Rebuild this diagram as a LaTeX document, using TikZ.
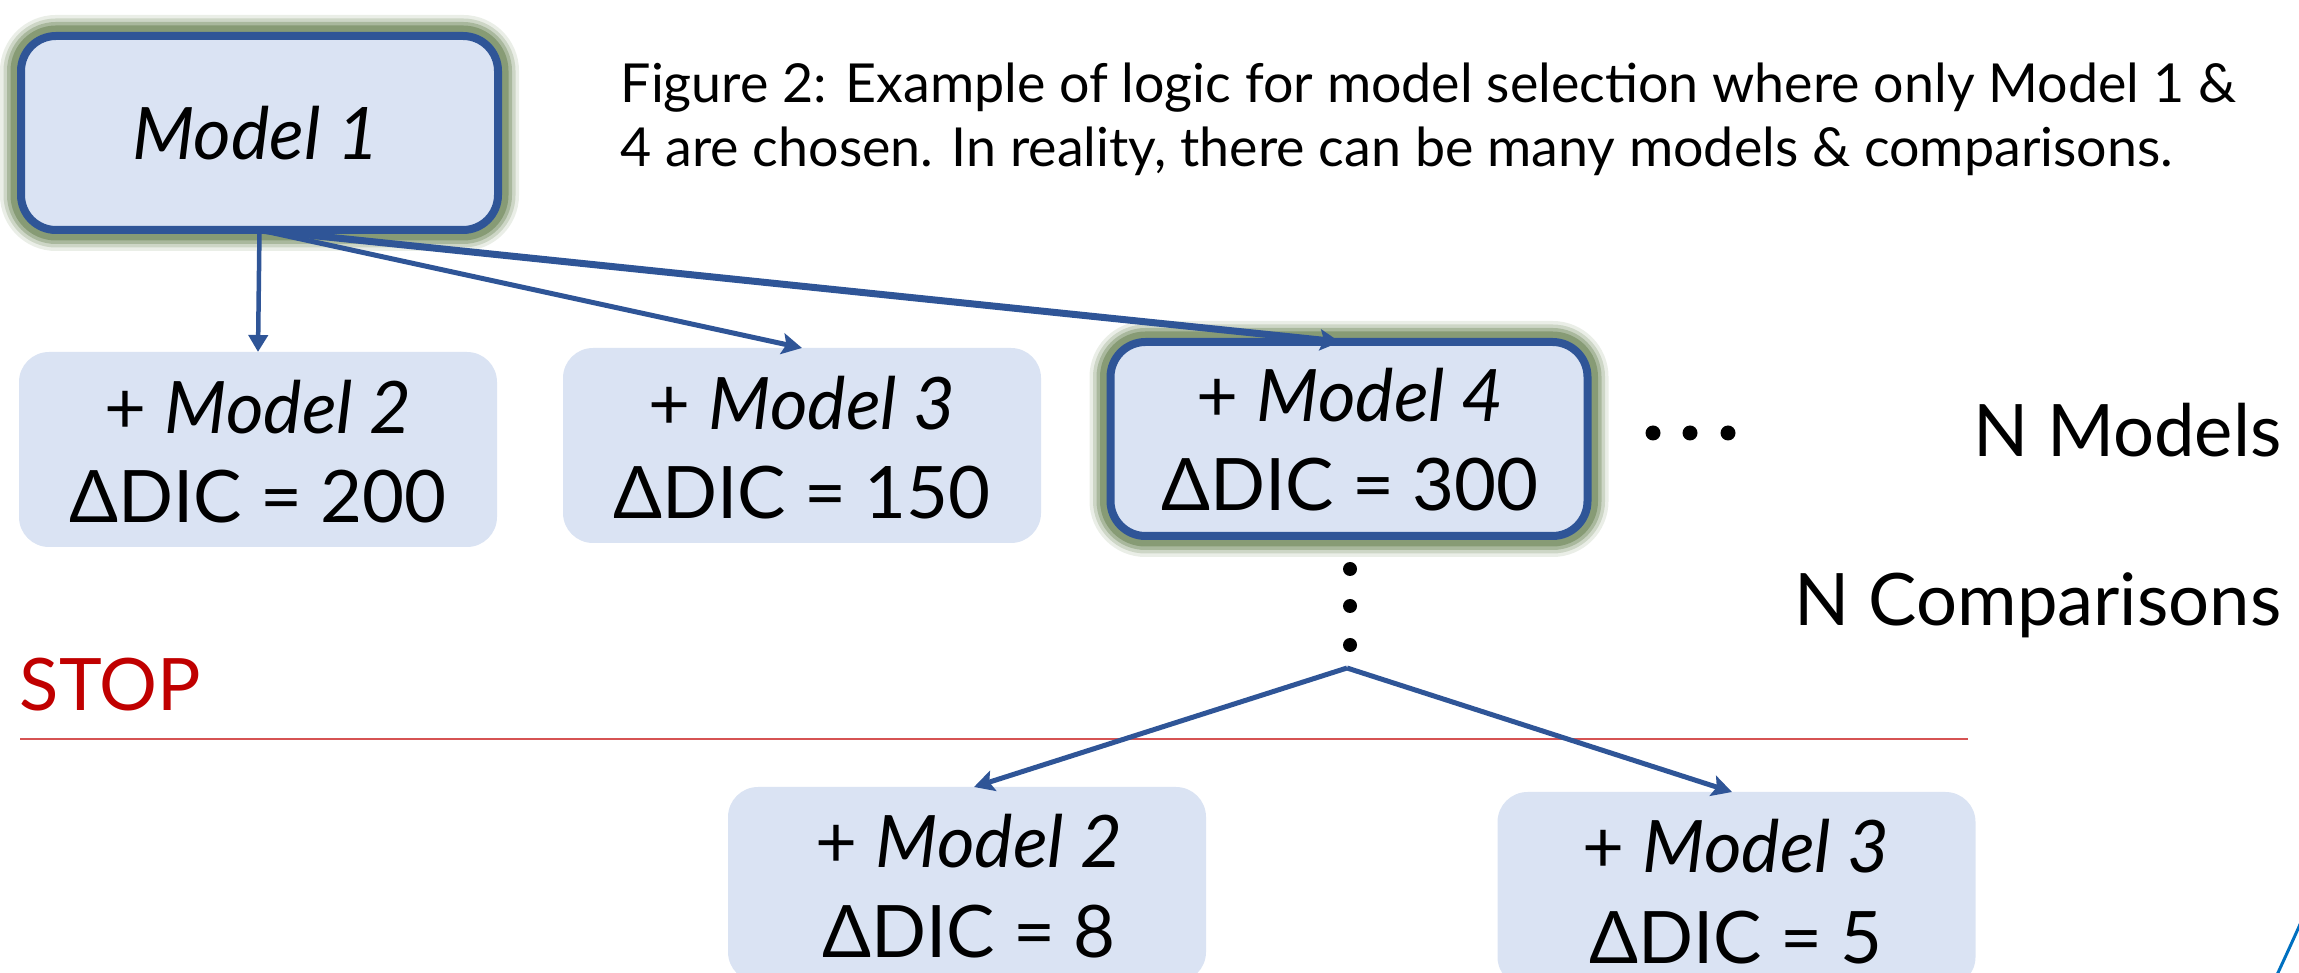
\documentclass[tikz,border=0pt]{standalone}
\usepackage{fontspec}
\setmainfont{Lato}
\usetikzlibrary{arrows.meta}

\definecolor{boxfill}{HTML}{DAE3F3}
\definecolor{edgeblue}{HTML}{2F5597}
\definecolor{glowgreen}{HTML}{748C60}
\definecolor{stopred}{HTML}{C00000}
\definecolor{stopline}{HTML}{D65353}
\definecolor{curveblue}{HTML}{0070C0}

\begin{document}
\begin{tikzpicture}[x=0.1mm,y=-0.1mm,
  modelbox/.style={rectangle, rounded corners=3mm, fill=boxfill,
    inner sep=0pt, outer sep=0pt, minimum width=47.8mm, minimum height=19.5mm},
  chosenbox/.style={modelbox, rounded corners=3.5mm, draw=edgeblue, line width=0.8mm,
    minimum width=47.7mm, minimum height=19.4mm,
    preaction={draw=glowgreen, line width=4.2mm, opacity=0.15},
    preaction={draw=glowgreen, line width=3.5mm, opacity=0.25},
    preaction={draw=glowgreen, line width=2.8mm, opacity=0.4},
    preaction={draw=glowgreen, line width=2.1mm, opacity=0.65}},
  boxtext/.style={anchor=base, inner sep=0pt, font=\fontsize{20.6pt}{24pt}\selectfont},
  sidetext/.style={anchor=base east, inner sep=0pt, font=\fontsize{20.6pt}{24pt}\selectfont},
  captext/.style={anchor=base west, inner sep=0pt, font=\fontsize{15.3pt}{18pt}\selectfont},
  link/.style={draw=edgeblue, line width=0.5mm,
    -{Stealth[length=2mm, width=2.1mm, inset=0.4mm]}},
  dot/.style={fill=black}
]
\useasboundingbox (0,0) rectangle (2299,973);
\clip (0,0) rectangle (2299,973);

% caption
\node[captext] (cap1) at (620,103) {Figure 2: Example of logic for model selection where only Model 1 \&};
\node[captext] (cap2) at (620,167) {4 are chosen. In reality, there can be many models \& comparisons.};

% starting model
\node[chosenbox] (m1) at (259.5,133) {};
\node[boxtext] (m1t) at (256,160) {\itshape Model 1};

% first level
\node[modelbox] (m2) at (258,449.5) {};
\node[boxtext] (m2a) at (258,434) {+ \textit{Model 2}};
\node[boxtext] (m2b) at (258,523) {ΔDIC = 200};

\node[modelbox] (m3) at (802,445.5) {};
\node[boxtext] (m3a) at (802,430) {+ \textit{Model 3}};
\node[boxtext] (m3b) at (802,519) {ΔDIC = 150};

\node[chosenbox] (m4) at (1349,439) {};
\node[boxtext] (m4a) at (1350,422) {+ \textit{Model 4}};
\node[boxtext] (m4b) at (1350,511) {ΔDIC = 300};

% continuation marks
\fill[dot] (1653,433) circle[radius=0.75mm];
\fill[dot] (1690,433) circle[radius=0.75mm];
\fill[dot] (1728,433) circle[radius=0.75mm];
\fill[dot] (1350,569) circle[radius=0.7mm];
\fill[dot] (1350,606) circle[radius=0.7mm];
\fill[dot] (1350,645) circle[radius=0.7mm];

\node[sidetext] (nmod) at (2282,457) {N Models};
\node[sidetext] (ncmp) at (2282,626) {N Comparisons};

% stopping rule
\node[anchor=base west, inner sep=0pt, text=stopred,
  font=\fontsize{20.6pt}{24pt}\selectfont] (stop) at (19,711) {STOP};
\coordinate (sl) at (20,739);
\coordinate (sr) at (1968,739);
\draw[stopline, line width=0.25mm] (sl) -- (sr);

% second level
\node[modelbox] (b2) at (967,884.5) {};
\node[boxtext] (b2a) at (969,868) {+ \textit{Model 2}};
\node[boxtext] (b2b) at (969,957) {ΔDIC = 8};

\node[modelbox] (b3) at (1736.5,889.5) {};
\node[boxtext] (b3a) at (1736,873) {+ \textit{Model 3}};
\node[boxtext] (b3b) at (1736,963) {ΔDIC = 5};

% connectors
\draw[link, line width=0.45mm, -{Triangle[length=1.7mm, width=1.9mm]}] (m1.south) -- (m2.north);
\draw[link] (m1.south) -- (m3.north);
\draw[link, line width=0.7mm] (m1.south) -- ([xshift=-0.9mm]m4.north);

\coordinate (fork) at (1347,668);
\draw[link] (fork) -- ([xshift=0.7mm]b2.north);
\draw[link] (fork) -- ([xshift=-0.45mm]b3.north);

% corner arc
\coordinate (ca) at (2276,977);
\coordinate (cb) at (2302,920);
\draw[curveblue, line width=0.3mm] (ca) .. controls (2288,951) .. (cb);
\end{tikzpicture}
\end{document}
